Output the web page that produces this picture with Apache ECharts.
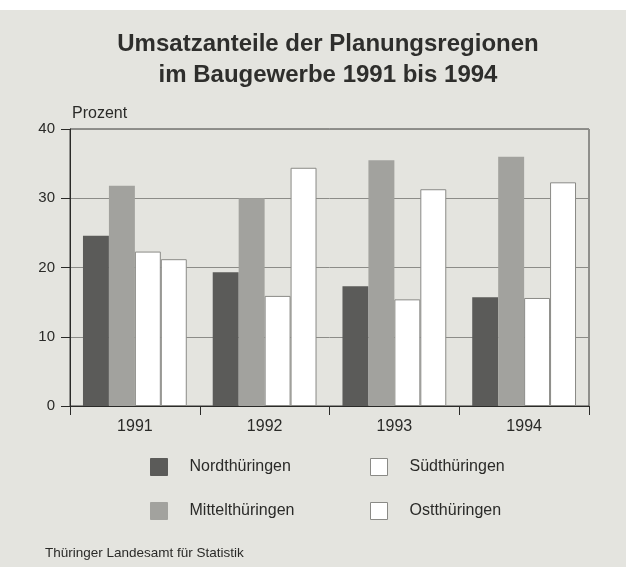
<!DOCTYPE html>
<html>
<head>
<meta charset="utf-8">
<script src="https://cdn.jsdelivr.net/npm/echarts@6/dist/echarts.min.js"></script>
<style>
  html, body { margin: 0; padding: 0; background: #e4e4df; }
  #main { width: 626px; height: 567px; }
</style>
</head>
<body>
<div id="main"></div>
<script>
// Jahre (Kategorien)
const years = ["1991", "1992", "1993", "1994"];
// Umsatzanteile in Prozent
const nord = [24.6, 19.3, 17.3, 15.7];
const mittel = [31.8, 30.0, 35.5, 36.0];
const sued = [22.3, 15.9, 15.4, 15.6];
const ost = [21.2, 34.4, 31.3, 32.3];
const yTicks = [0, 10, 20, 30, 40];

const font = "Liberation Sans, Arial, sans-serif";
const ink = "#2a2a28";

let myChart = echarts.init(document.getElementById("main"));

function bar(name, data, color, border) {
  return {
    name: name,
    type: "bar",
    data: data,
    barGap: "0%",
    barCategoryGap: "20%",
    itemStyle: {
      color: color,
      borderColor: border || color,
      borderWidth: border ? 1 : 0,
    },
  };
}

function legendCol(left, names) {
  return {
    orient: "vertical",
    left: left,
    top: 453,
    itemWidth: 17,
    itemHeight: 17,
    itemGap: 26,
    icon: "rect",
    itemStyle: { borderWidth: 1 },
    textStyle: { fontFamily: font, fontSize: 16, lineHeight: 17, color: ink, padding: [0, 0, 0, 17] },
    data: names,
  };
}

let option = {
  backgroundColor: "#e4e4df",
  animation: false,
  textStyle: { fontFamily: font },
  title: {
    text: "Umsatzanteile der Planungsregionen\nim Baugewerbe 1991 bis 1994",
    left: 323,
    textAlign: "center",
    top: 24,
    textStyle: {
      fontFamily: font,
      fontSize: 24,
      fontWeight: "bold",
      color: "#2e2e2c",
      lineHeight: 31,
    },
  },
  grid: {
    left: 70,
    right: 37,
    top: 129,
    bottom: 161,
    show: true,
    borderColor: "#3a3a38",
    borderWidth: 1,
  },
  legend: [
    legendCol(145, ["Nordthüringen", "Mittelthüringen"]),
    legendCol(365, ["Südthüringen", "Ostthüringen"]),
  ],
  xAxis: {
    type: "category",
    data: years,
    axisLine: { lineStyle: { color: ink, width: 1 } },
    axisTick: { show: true, length: 9, lineStyle: { color: ink } },
    axisLabel: { fontFamily: font, fontSize: 16, color: ink, margin: 13 },
  },
  yAxis: {
    type: "value",
    name: "Prozent",
    nameLocation: "end",
    nameGap: 7,
    nameTextStyle: { fontFamily: font, fontSize: 16, color: ink, align: "left", padding: [0, 0, 0, 2] },
    min: yTicks[0],
    max: yTicks[yTicks.length - 1],
    interval: 10,
    axisLine: { show: true, lineStyle: { color: ink, width: 1 } },
    axisTick: { show: true, length: 9, lineStyle: { color: ink } },
    axisLabel: { fontFamily: font, fontSize: 15, color: ink, margin: 15 },
    splitLine: { show: true, lineStyle: { color: "#8c8c88", width: 1 } },
  },
  graphic: [
    {
      type: "rect",
      left: 0,
      top: 0,
      shape: { width: 626, height: 10 },
      style: { fill: "#ffffff" },
      silent: true,
    },
    {
      type: "text",
      left: 45,
      top: 546,
      style: {
        text: "Thüringer Landesamt für Statistik",
        fontFamily: font,
        fontSize: 13.5,
        fill: ink,
      },
    },
  ],
  series: [
    bar("Nordthüringen", nord, "#5b5b59", null),
    bar("Mittelthüringen", mittel, "#a2a29e", null),
    bar("Südthüringen", sued, "#ffffff", "#8a8a86"),
    bar("Ostthüringen", ost, "#ffffff", "#8a8a86"),
  ],
};

myChart.setOption(option);
</script>
</body>
</html>
